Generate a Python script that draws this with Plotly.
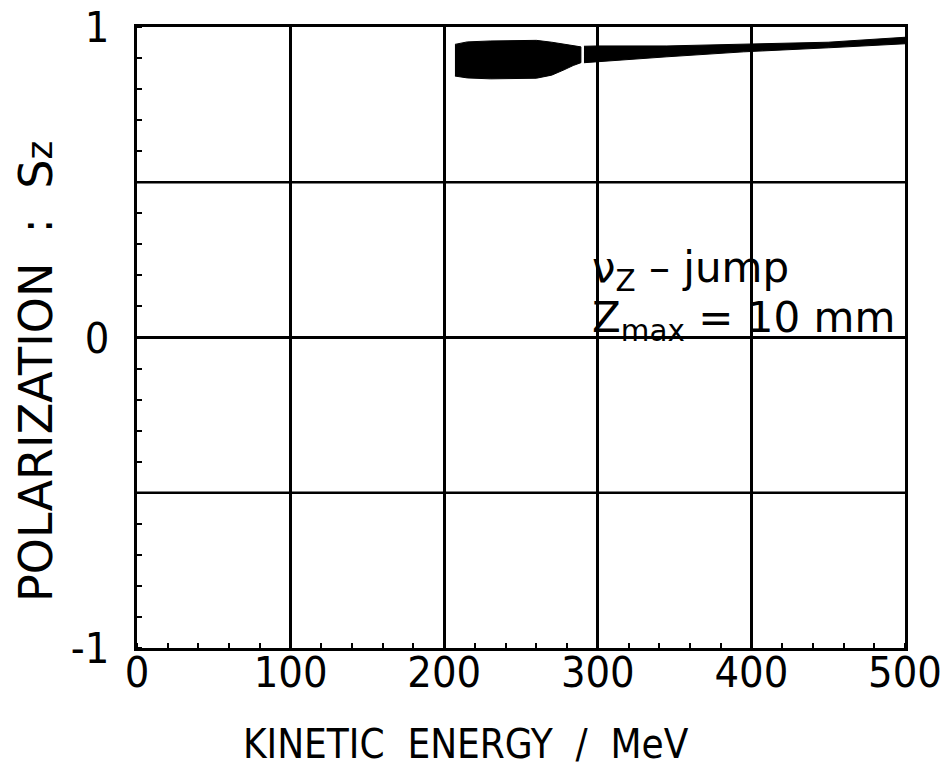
import plotly.graph_objects as go

# ---- data ----
seg1_E = [207, 215, 230, 245, 260, 270, 278, 284, 289]
seg1_top = [0.944, 0.952, 0.955, 0.957, 0.957, 0.951, 0.944, 0.939, 0.936]
seg1_bot = [0.842, 0.836, 0.833, 0.833, 0.835, 0.845, 0.862, 0.876, 0.885]

seg2_E = [291, 300, 345, 395, 450, 500]
seg2_top = [0.938, 0.939, 0.939, 0.944, 0.951, 0.967]
seg2_bot = [0.885, 0.888, 0.904, 0.920, 0.933, 0.946]

x_ticks = [0, 100, 200, 300, 400, 500]
y_ticks = [-1, 0, 1]
y_tick_text = ["-1", "0", "1"]
y_grid = [-0.5, 0.5]

FONT = "DejaVu Sans, sans-serif"
CFONT = "DejaVu Sans Condensed, DejaVu Sans, sans-serif"

fig = go.Figure()
for E, top, bot in [(seg1_E, seg1_top, seg1_bot), (seg2_E, seg2_top, seg2_bot)]:
    xs = list(E) + list(E)[::-1]
    ys = list(top) + list(bot)[::-1]
    fig.add_trace(go.Scatter(x=xs, y=ys, fill="toself", mode="lines",
                             line=dict(color="black", width=1),
                             fillcolor="black", showlegend=False, hoverinfo="skip"))

for yg in y_grid:
    fig.add_hline(y=yg, line=dict(color="black", width=2.5), layer="below")

fig.update_xaxes(range=[0, 500], tickvals=x_ticks, ticktext=[str(v) for v in x_ticks],
                 showgrid=True, gridcolor="black", gridwidth=2.5, automargin=False,
                 showline=True, linecolor="black", linewidth=3, mirror=True,
                 zeroline=False, ticks="", ticklabelstandoff=-16,
                 minor=dict(dtick=20, ticks="inside", ticklen=5, tickcolor="black", tickwidth=2, showgrid=False),
                 tickfont=dict(family=CFONT, size=43, color="black"))
fig.update_yaxes(range=[-1, 1], tickvals=y_ticks, ticktext=y_tick_text,
                 showgrid=True, gridcolor="black", gridwidth=2.5, automargin=False,
                 showline=True, linecolor="black", linewidth=3, mirror=True,
                 zeroline=False, ticks="", ticklabelstandoff=16,
                 minor=dict(dtick=0.1, ticks="inside", ticklen=5, tickcolor="black", tickwidth=2, showgrid=False),
                 tickfont=dict(family=CFONT, size=43, color="black"))

PX0, PX1, PY0, PY1 = 137, 905, 27, 648

def px(xp):
    return (xp - PX0) / (PX1 - PX0)

def py(yp):
    return (PY1 - yp) / (PY1 - PY0)

fig.add_annotation(text="KINETIC&nbsp;&nbsp;ENERGY&nbsp;&nbsp;/&nbsp;&nbsp;MeV",
                   xref="paper", yref="paper", x=px(466), y=py(744),
                   showarrow=False, font=dict(family=CFONT, size=40, color="black"),
                   xanchor="center", yanchor="middle")
fig.add_annotation(text="POLARIZATION&nbsp;&nbsp;:&nbsp;&nbsp;S<span style='font-size:36px'>z</span>",
                   xref="paper", yref="paper", x=px(36), y=py(372),
                   showarrow=False, textangle=-90, font=dict(family=FONT, size=46, color="black"),
                   xanchor="center", yanchor="middle")
fig.add_annotation(text="\u03bd<sub>Z</sub> \u2013 jump",
                   xref="x", yref="y", x=295, y=0.215, showarrow=False,
                   font=dict(family=FONT, size=42, color="black"), xanchor="left", yanchor="middle")
fig.add_annotation(text="Z<sub>max</sub> = 10 mm",
                   xref="x", yref="y", x=295, y=0.055, showarrow=False,
                   font=dict(family=FONT, size=42, color="black"), xanchor="left", yanchor="middle")

fig.update_layout(width=944, height=777, margin=dict(l=PX0, r=944 - PX1, t=PY0, b=777 - PY1),
                  plot_bgcolor="white", paper_bgcolor="white", showlegend=False)

fig.write_html("out.html")
